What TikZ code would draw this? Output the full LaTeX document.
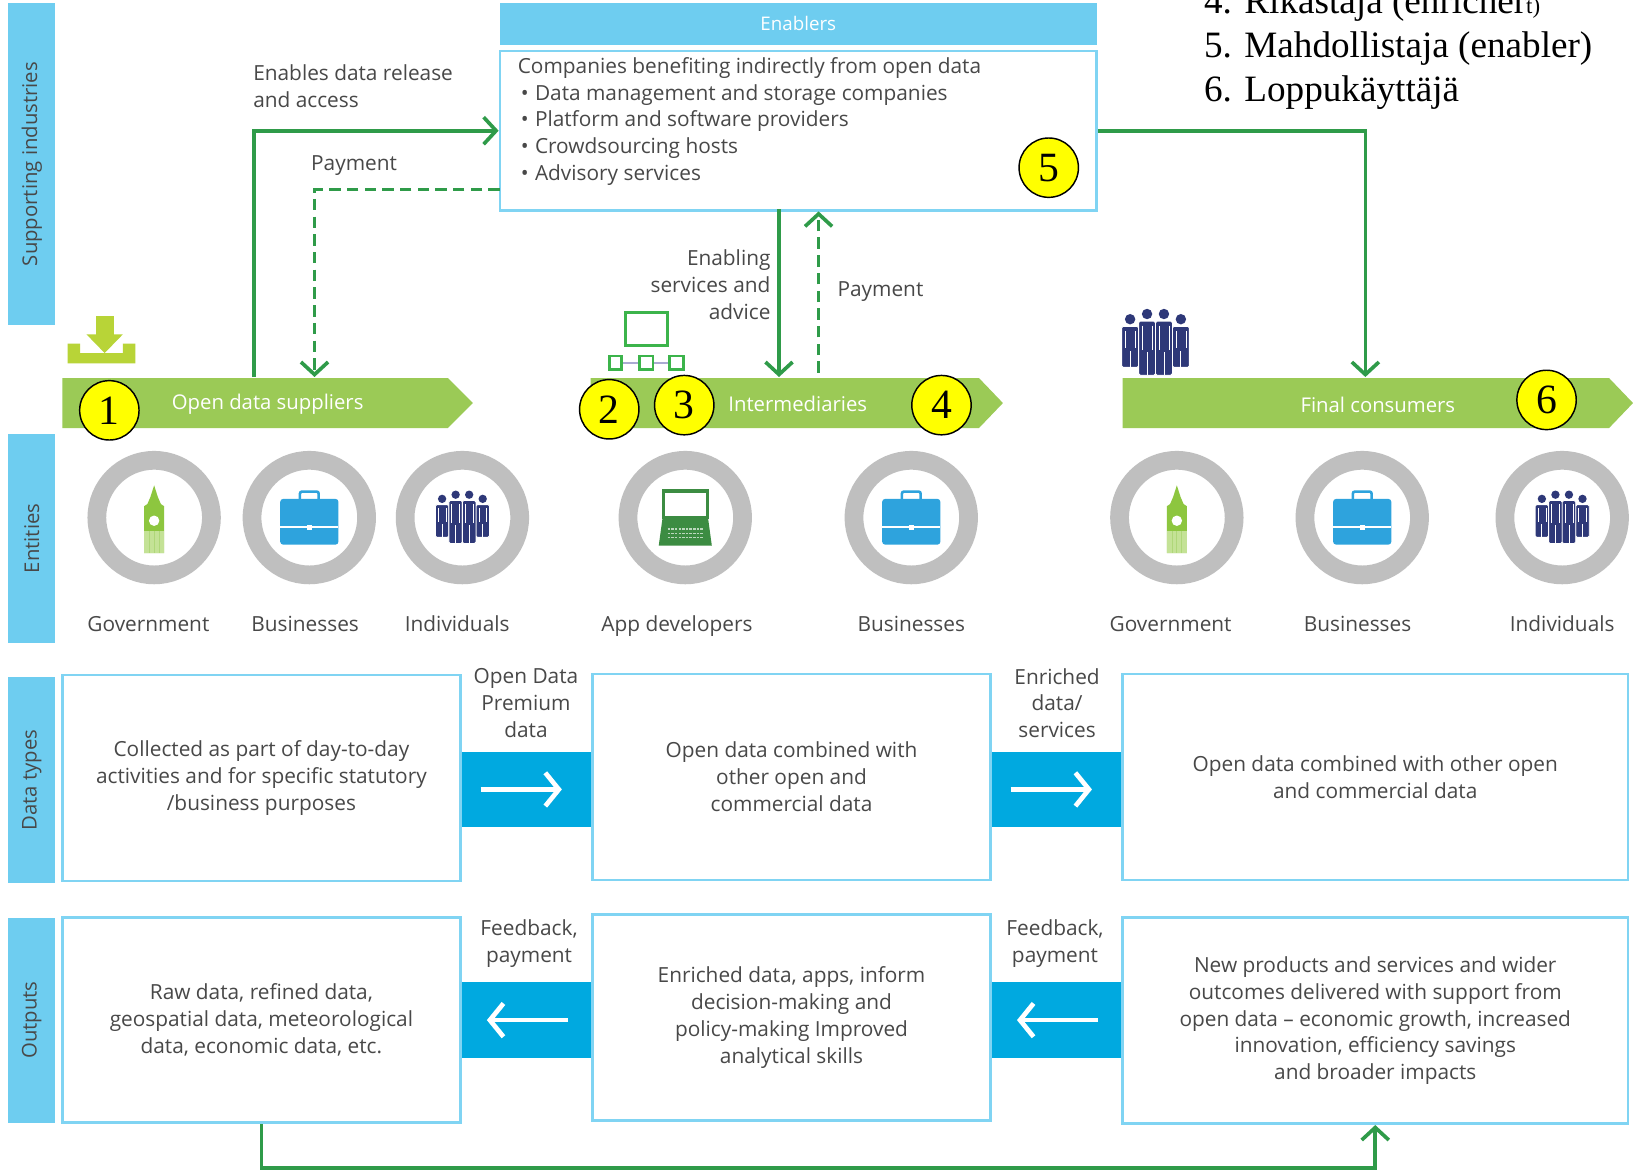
\documentclass[tikz,border=0pt]{standalone}
\usepackage{fontspec}
\setmainfont{Open Sans}
\newfontfamily\numfont{Liberation Serif}
\usetikzlibrary{arrows.meta}
\definecolor{barblue}{RGB}{110,205,240}
\definecolor{boxblue}{RGB}{128,212,243}
\definecolor{conblue}{RGB}{0,169,224}
\definecolor{bandgreen}{RGB}{155,202,86}
\definecolor{arrgreen}{RGB}{47,155,73}
\definecolor{ringgray}{RGB}{191,191,191}
\definecolor{txtgray}{RGB}{72,72,72}
\definecolor{bbgreen}{RGB}{141,198,63}
\definecolor{bbgreenlt}{RGB}{196,226,150}
\definecolor{casblue}{RGB}{46,163,221}
\definecolor{navy}{RGB}{46,56,120}
\definecolor{lapgreen}{RGB}{60,140,66}
\definecolor{dlgreen}{RGB}{184,212,55}
\definecolor{netgreen}{RGB}{60,180,75}
\definecolor{netline}{RGB}{170,170,210}
\definecolor{numyellow}{RGB}{255,255,0}
\newcommand\ft[2]{\fontsize{#1pt}{#2pt}\selectfont}
\tikzset{
 body/.style={font=\ft{20}{25.7}, text=txtgray},
 sidebar/.style={rotate=90, fill=barblue, minimum height=45pt, inner sep=0pt, font=\ft{19.5}{19.5}, text=txtgray},
 infobox/.style={draw=boxblue, line width=2.5pt, fill=white, inner sep=0pt, align=center, body},
 connbox/.style={fill=conblue, minimum width=127pt, inner sep=0pt},
 bandlabel/.style={text=white, font=\ft{19.5}{19.5}, inner sep=0pt},
 ring/.style={circle, draw=ringgray, line width=18pt, minimum size=110pt, inner sep=0pt},
 entlabel/.style={body, inner sep=0pt, anchor=base},
 plainlabel/.style={body, inner sep=0pt},
 numc/.style={circle, draw=black, line width=1.4pt, fill=numyellow, minimum size=57pt, inner sep=0pt, font=\numfont\ft{40}{40}, text=black},
 legend/.style={anchor=base west, inner sep=0pt, font=\numfont\ft{35.7}{35.7}, text=black},
 garrow/.style={draw=arrgreen, line width=3.5pt, -{Straight Barb[length=12pt,width=26pt,line width=3.5pt]}},
 gdash/.style={garrow, dash pattern=on 11pt off 6pt},
 warrow/.style={draw=white, line width=4.5pt, -{Straight Barb[length=13pt,width=32pt,line width=4.5pt]}},
 bigben/.pic={
  \fill[bbgreen] (0,-31) -- (-3.5,-20) -- (-6.5,-13) -- (-9.5,-11) -- (-9.5,34) -- (9.5,34) -- (9.5,-11) -- (6.5,-13) -- (3.5,-20) -- cycle;
  \fill[bbgreenlt] (-9.5,13) rectangle (9.5,34);
  \foreach \xx in {-4.75,0,4.75} \draw[bbgreen!70, line width=0.7pt] (\xx,13) -- (\xx,34);
  \fill[white] (0,3) circle (5);
 },
 briefcase/.pic={
  \draw[casblue, line width=2.5pt, rounded corners=2pt] (-9,-17) -- (-9,-25) -- (9,-25) -- (9,-17);
  \fill[casblue, rounded corners=3pt] (-28,-18) rectangle (28,26);
  \draw[white, line width=1.5pt] (-28,9) -- (28,9);
  \fill[white] (-2.5,7) rectangle (2.5,12);
 },
 people/.pic={
  \foreach \dx/\hy/\by in {-19.5/-18/19, 19.5/-18/19, -6.5/-22/25, 6.5/-22/25}{
   \fill[navy] (\dx,\hy) circle (4);
   \filldraw[fill=navy, draw=white, line width=0.8pt, rounded corners=1.5pt] (\dx-6.5,\hy+5.5) rectangle (\dx+6.5,\by);
   \draw[white, line width=0.8pt] (\dx,{(\hy+\by)/2+6}) -- (\dx,\by);
   \draw[white, line width=0.5pt] (\dx-3.8,\hy+9) -- (\dx-3.8,{(\hy+\by)/2+4});
   \draw[white, line width=0.5pt] (\dx+3.8,\hy+9) -- (\dx+3.8,{(\hy+\by)/2+4});
  }
 },
 laptop/.pic={
  \draw[lapgreen, line width=3pt] (-21,-25.5) rectangle (21,0);
  \fill[lapgreen] (-22,1.5) -- (22,1.5) -- (25.5,27) -- (-25.5,27) -- cycle;
  \foreach \yy in {11,15,19} \draw[lapgreen!35, line width=1.3pt, dash pattern=on 2.5pt off 1pt] (-17,\yy) -- (17,\yy);
 },
}
\begin{document}
\begin{tikzpicture}[x=1pt,y=-1pt]
\useasboundingbox[fill=white] (0,0) rectangle (1568,1126);

% side bars
\node[sidebar, minimum width=309pt] (lbSup) at (30.5,157.5) {Supporting industries};
\node[sidebar, minimum width=200pt] (lbEnt) at (30.5,517) {Entities};
\node[sidebar, minimum width=198pt] (lbData) at (30.5,749) {Data types};
\node[sidebar, minimum width=197pt] (lbOut) at (30.5,979.5) {Outputs};

% enablers
\node[fill=barblue, minimum width=573pt, minimum height=40pt, inner sep=0pt, text=white, font=\ft{18}{18}] (enHead) at (766.5,23) {Enablers};
\node[draw=boxblue, line width=2.5pt, fill=white, minimum width=573pt, minimum height=153pt, inner sep=0pt] (enBox) at (766.5,125.5) {};
\node[anchor=north west, inner sep=0pt, align=left, body] (enText) at (497,55) {Companies benefiting indirectly from open data\\
\hspace*{3pt}\textbullet\hspace{6pt}Data management and storage companies\\
\hspace*{3pt}\textbullet\hspace{6pt}Platform and software providers\\
\hspace*{3pt}\textbullet\hspace{6pt}Crowdsourcing hosts\\
\hspace*{3pt}\textbullet\hspace{6pt}Advisory services};

% legend text
\node[legend] (lg4) at (1156,12.5) {4. Rikastaja (enricher{\ft{22}{22}t)}};
\node[legend] (lg5) at (1156,55) {5. Mahdollistaja (enabler)};
\node[legend] (lg6) at (1156,97.5) {6. Loppukäyttäjä};

% bands
\fill[bandgreen] (60,363) -- (430,363) -- (454,387) -- (430,411) -- (60,411) -- cycle;
\fill[bandgreen] (567,363) -- (940,363) -- (963,387) -- (940,411) -- (567,411) -- cycle;
\fill[bandgreen] (1078,363) -- (1545,363) -- (1568,387) -- (1545,411) -- (1078,411) -- cycle;
\node[bandlabel] (supT) at (257,388) {Open data suppliers};
\node[bandlabel] (intT) at (766,388) {Intermediaries};
\node[bandlabel] (finT) at (1323,389) {Final consumers};

% band icons
\fill[dlgreen] (65,330) -- (77,330) -- (77,339) -- (118,339) -- (118,330) -- (130,330) -- (130,349) -- (65,349) -- cycle;
\fill[dlgreen] (92,303) rectangle (109,323);
\fill[dlgreen] (83,321) -- (118,321) -- (100.5,339) -- cycle;
\draw[netline, line width=2pt] (597,348.5) -- (614,348.5) (627,348.5) -- (643,348.5);
\draw[netgreen, line width=3pt] (601,300) rectangle (641,332);
\draw[netgreen, line width=2.5pt] (585,342) rectangle (597,355);
\draw[netgreen, line width=2.5pt] (614,342) rectangle (627,355);
\draw[netgreen, line width=2.5pt] (643,342) rectangle (656,355);
\pic[scale=1.25] at (1109.5,329) {people};

% connectors top
\coordinate (s1) at (244,362);
\coordinate (s2) at (302,362);
\coordinate (p1) at (480,182);
\coordinate (e1) at (748,201);
\coordinate (i1) at (748,362);
\coordinate (i2) at (786,358);
\coordinate (e2) at (786,203);
\coordinate (f1) at (1311,362);
\draw[garrow] (s1) |- (enBox.west);
\draw[gdash] (p1) -| (s2);
\draw[garrow] (e1) -- (i1);
\draw[gdash] (i2) -- (e2);
\draw[garrow] (enBox.east) -| (f1);

\node[plainlabel, anchor=west, align=left] (lbRel) at (243,82.5) {Enables data release\\and access};
\node[plainlabel] (lbPay1) at (340,159) {Payment};
\node[plainlabel, anchor=east, align=right] (lbEnab) at (740,273.5) {Enabling\\services and\\advice};
\node[plainlabel, anchor=west] (lbPay2) at (804,280) {Payment};

% number circles
\node[numc] (n1) at (105,394) {1};
\node[numc] (n2) at (585,393) {2};
\node[numc] (n3) at (657,389) {3};
\node[numc] (n4) at (904,389) {4};
\node[numc] (n5) at (1007,161) {5};
\node[numc] (n6) at (1485,384) {6};

% entities
\foreach \nm/\cx/\lx/\ic/\lb in {g1/148/142.5/bigben/Government, b1/297/293/briefcase/Businesses, p1e/444/439/people/Individuals, a1/658/650/laptop/App developers, b2/875/875/briefcase/Businesses, g2/1130/1124/bigben/Government, b3/1308/1303.5/briefcase/Businesses, p2e/1500/1500/people/Individuals}{
 \node[ring] (r\nm) at (\cx,497) {};
 \pic at (\cx,497) {\ic};
 \node[entlabel] (l\nm) at (\lx,606) {\lb};
}

% data types row
\node[connbox, minimum height=72pt] (c1) at (505.5,758) {};
\node[connbox, minimum height=72pt] (c2) at (1014.5,758) {};
\node[connbox, minimum height=73pt] (c3) at (505.5,979.5) {};
\node[connbox, minimum height=73pt] (c4) at (1014.5,979.5) {};
\draw[warrow] ([xshift=-44pt]c1.center) -- ([xshift=34pt]c1.center);
\draw[warrow] ([xshift=-44pt]c2.center) -- ([xshift=34pt]c2.center);
\draw[warrow] ([xshift=40pt]c3.center) -- ([xshift=-38pt]c3.center);
\draw[warrow] ([xshift=40pt]c4.center) -- ([xshift=-38pt]c4.center);

\node[infobox, minimum width=382pt, minimum height=198pt] (A) at (251,747) {Collected as part of day-to-day\\activities and for specific statutory\\/business purposes};
\node[infobox, minimum width=382pt, minimum height=198pt] (B) at (760,746) {Open data combined with\\other open and\\commercial data};
\node[infobox, minimum width=485pt, minimum height=198pt] (C) at (1320.5,746) {Open data combined with other open\\and commercial data};
\node[infobox, minimum width=382pt, minimum height=197pt] (D) at (251,979.5) {Raw data, refined data,\\geospatial data, meteorological\\data, economic data, etc.};
\node[infobox, minimum width=382pt, minimum height=198pt] (E) at (760,977) {Enriched data, apps, inform\\decision-making and\\policy-making Improved\\analytical skills};
\node[infobox, minimum width=485pt, minimum height=198pt] (F) at (1320.5,980) {New products and services and wider\\outcomes delivered with support from\\open data -- economic growth, increased\\innovation, efficiency savings\\and broader impacts};

\node[plainlabel, align=center] (lbOD) at (505,675) {Open Data\\Premium\\data};
\node[plainlabel, align=center] (lbEn) at (1015,675) {Enriched\\data/\\services};
\node[plainlabel, align=center] (lbFb1) at (508,906) {Feedback,\\payment};
\node[plainlabel, align=center] (lbFb2) at (1013,906) {Feedback,\\payment};

\draw[garrow] (D.south) -- ++(0,42) -| (F.south);
\end{tikzpicture}
\end{document}
